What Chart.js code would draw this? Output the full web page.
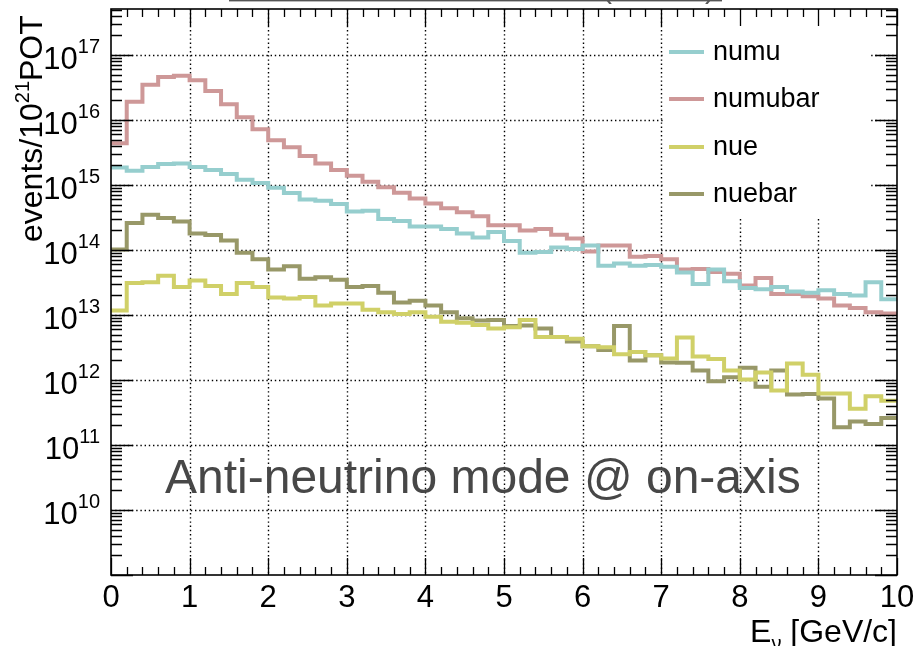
<!DOCTYPE html>
<html>
<head>
<meta charset="utf-8">
<script src="https://cdn.jsdelivr.net/npm/chart.js@4.4.1/dist/chart.umd.min.js"></script>
<style>
  html, body { margin: 0; padding: 0; background: #fff; }
  #wrap { width: 917px; height: 646px; }
</style>
</head>
<body>
<div id="wrap"><canvas id="fluxChart" width="917" height="646"></canvas></div>
<script>
// bin low edges in GeV (0.2 GeV bins), last bin closes at 10
const binLowEdges = [0.0, 0.2, 0.4, 0.6, 0.8, 1.0, 1.2, 1.4, 1.6, 1.8,
  2.0, 2.2, 2.4, 2.6, 2.8, 3.0, 3.2, 3.4, 3.6, 3.8,
  4.0, 4.2, 4.4, 4.6, 4.8, 5.0, 5.2, 5.4, 5.6, 5.8,
  6.0, 6.2, 6.4, 6.6, 6.8, 7.0, 7.2, 7.4, 7.6, 7.8,
  8.0, 8.2, 8.4, 8.6, 8.8, 9.0, 9.2, 9.4, 9.6, 9.8];
const upperEdge = 10;

// events / 1e21 POT
const numu = [1.86e15, 1.65e15, 1.9e15, 2.1e15, 2.15e15, 1.9e15, 1.7e15, 1.48e15, 1.2e15, 1.07e15,
  9.1e14, 7.5e14, 6.0e14, 5.7e14, 5.1e14, 3.9e14, 4.0e14, 3.0e14, 2.8e14, 2.3e14,
  2.3e14, 2.1e14, 1.8e14, 1.55e14, 1.9e14, 1.38e14, 9.1e13, 9.3e13, 1.09e14, 1.04e14,
  1.17e14, 5.7e13, 6.2e13, 5.7e13, 5.9e13, 5.5e13, 4.5e13, 3.0e13, 5.0e13, 3.3e13,
  2.6e13, 2.5e13, 2.7e13, 2.3e13, 2.2e13, 2.4e13, 2.1e13, 2.0e13, 3.2e13, 1.75e13];
const numubar = [4.4e15, 1.9e16, 3.5e16, 4.6e16, 4.8e16, 4.1e16, 2.8e16, 1.74e16, 1.1e16, 7.2e15,
  4.9e15, 3.8e15, 2.8e15, 2.15e15, 1.7e15, 1.39e15, 1.12e15, 9.2e14, 7.6e14, 6.2e14,
  5.2e14, 4.4e14, 3.8e14, 3.3e14, 2.4e14, 2.4e14, 2.0e14, 2.1e14, 1.72e14, 1.5e14,
  9.5e13, 1.17e14, 1.17e14, 7.9e13, 8.1e13, 7.2e13, 5.0e13, 5.1e13, 4.6e13, 4.3e13,
  2.85e13, 3.7e13, 2.1e13, 2.1e13, 1.95e13, 1.8e13, 1.4e13, 1.28e13, 1.1e13, 1.05e13];
const nue = [1.17e13, 3.1e13, 3.2e13, 4.0e13, 2.7e13, 3.4e13, 2.8e13, 2.1e13, 3.1e13, 2.7e13,
  1.86e13, 1.8e13, 1.9e13, 1.4e13, 1.5e13, 1.5e13, 1.2e13, 1.1e13, 1.04e13, 1.1e13,
  9.4e12, 7.9e12, 7.6e12, 7.0e12, 6.2e12, 6.5e12, 8.4e12, 4.6e12, 4.6e12, 4.3e12,
  3.3e12, 3.2e12, 2.5e12, 2.7e12, 2.4e12, 2.15e12, 4.5e12, 2.3e12, 2.1e12, 1.4e12,
  1.02e12, 1.3e12, 6.9e11, 1.8e12, 1.2e12, 6.2e11, 6.2e11, 3.6e11, 5.6e11, 4.8e11];
const nuebar = [1.02e14, 2.6e14, 3.5e14, 3.1e14, 2.75e14, 1.8e14, 1.7e14, 1.4e14, 9.1e13, 7.2e13,
  5.0e13, 5.6e13, 3.6e13, 3.8e13, 3.5e13, 2.7e13, 2.8e13, 2.2e13, 1.56e13, 1.65e13,
  1.4e13, 1.1e13, 8.9e12, 8.2e12, 8.4e12, 6.8e12, 6.9e12, 6.2e12, 4.6e12, 3.9e12,
  3.3e12, 2.9e12, 6.8e12, 2.0e12, 2.4e12, 1.86e12, 1.85e12, 1.4e12, 9.6e11, 1.1e12,
  1.55e12, 7.9e11, 1.4e12, 6.0e11, 6.1e11, 5.2e11, 1.87e11, 2.3e11, 2.1e11, 2.6e11];

const seriesNames = ['numu', 'numubar', 'nue', 'nuebar'];
const seriesValues = [numu, numubar, nue, nuebar];
const seriesColors = ['rgb(150,206,206)', 'rgb(206,152,152)', 'rgb(208,208,104)', 'rgb(152,152,104)'];

const xTickLabels = ['0', '1', '2', '3', '4', '5', '6', '7', '8', '9', '10'];
const yDecades = [10, 11, 12, 13, 14, 15, 16, 17];
const yMin = 1e9;
const yMax = 5.1e17;

const FONT = '"Liberation Sans", Arial, Helvetica, sans-serif';

function toSteps(values) {
  const pts = binLowEdges.map((x, i) => ({ x: x, y: values[i] }));
  pts.push({ x: upperEdge, y: values[values.length - 1] });
  return pts;
}

// ROOT-like frame, ticks, grid, legend and labels
const rootStyle = {
  id: 'rootStyle',
  beforeDraw(chart) {
    const ctx = chart.ctx;
    ctx.save();
    ctx.fillStyle = '#fff';
    ctx.fillRect(0, 0, chart.width, chart.height);
    // bottom of cut-off title box
    ctx.fillStyle = '#555';
    ctx.fillRect(229, 0, 493, 1.4);
    ctx.font = '30px ' + FONT;
    ctx.textBaseline = 'alphabetic';
    ctx.fillText('(', 602, -2);
    ctx.fillText(')', 705, -2);
    ctx.restore();
  },
  beforeDatasetsDraw(chart) {
    const ctx = chart.ctx, ca = chart.chartArea;
    const xs = chart.scales.x, ys = chart.scales.y;
    ctx.save();
    ctx.strokeStyle = '#000';
    ctx.lineWidth = 1.4;
    ctx.setLineDash([1.4, 2.8]);
    ctx.beginPath();
    for (let v = 1; v <= 9; v++) {
      const px = Math.round(xs.getPixelForValue(v)) + 0.5;
      ctx.moveTo(px, ca.top);
      ctx.lineTo(px, ca.bottom);
    }
    yDecades.forEach(e => {
      const py = Math.round(ys.getPixelForValue(Math.pow(10, e))) + 0.5;
      ctx.moveTo(ca.left, py);
      ctx.lineTo(ca.right, py);
    });
    ctx.stroke();
    ctx.restore();
  },
  afterDatasetsDraw(chart) {
    const ctx = chart.ctx, ca = chart.chartArea;
    const xs = chart.scales.x, ys = chart.scales.y;
    ctx.save();

    // legend
    ctx.fillStyle = '#fff';
    ctx.fillRect(663, ca.top + 1, 207, 208);
    const rowY = [52, 99, 147, 194];
    ctx.font = '27px ' + FONT;
    ctx.textBaseline = 'middle';
    ctx.textAlign = 'left';
    seriesNames.forEach((name, i) => {
      ctx.strokeStyle = seriesColors[i];
      ctx.lineWidth = 4;
      ctx.beginPath();
      ctx.moveTo(669, rowY[i]);
      ctx.lineTo(704, rowY[i]);
      ctx.stroke();
      ctx.fillStyle = '#000';
      ctx.fillText(name, 713, rowY[i] + 1);
    });

    // annotation
    ctx.fillStyle = '#474747';
    ctx.font = '48px ' + FONT;
    ctx.textBaseline = 'alphabetic';
    ctx.fillText('Anti-neutrino mode @ on-axis', 165, 493);

    // frame
    ctx.strokeStyle = '#000';
    ctx.lineWidth = 1.6;
    ctx.strokeRect(ca.left, ca.top, ca.right - ca.left, ca.bottom - ca.top);

    // x ticks (inside, top and bottom)
    ctx.lineWidth = 1.3;
    ctx.beginPath();
    binLowEdges.concat([upperEdge]).forEach((v, j) => {
      const px = Math.round(xs.getPixelForValue(v)) + 0.5;
      const len = (j % 5 === 0) ? 17 : 8;
      ctx.moveTo(px, ca.bottom);
      ctx.lineTo(px, ca.bottom - len);
      ctx.moveTo(px, ca.top);
      ctx.lineTo(px, ca.top + len);
    });
    // y ticks (log, inside, left and right)
    for (let e = 9; e <= 17; e++) {
      for (let k = 1; k <= 9; k++) {
        const v = k * Math.pow(10, e);
        if (v < yMin || v > yMax) continue;
        const py = Math.round(ys.getPixelForValue(v)) + 0.5;
        const len = (k === 1) ? 22 : 11;
        ctx.moveTo(ca.left, py);
        ctx.lineTo(ca.left + len, py);
        ctx.moveTo(ca.right, py);
        ctx.lineTo(ca.right - len, py);
      }
    }
    ctx.stroke();

    // x tick labels
    ctx.fillStyle = '#000';
    ctx.font = '31px ' + FONT;
    ctx.textAlign = 'center';
    ctx.textBaseline = 'alphabetic';
    xTickLabels.forEach((lab, i) => {
      ctx.fillText(lab, xs.getPixelForValue(i), 607);
    });

    // y tick labels 10^n
    ctx.textAlign = 'left';
    yDecades.forEach(e => {
      const py = ys.getPixelForValue(Math.pow(10, e));
      ctx.font = '20px ' + FONT;
      const sw = ctx.measureText(String(e)).width;
      ctx.font = '31px ' + FONT;
      const bw = ctx.measureText('10').width;
      const x0 = 100 - sw - bw;
      ctx.fillText('10', x0, py + 14);
      ctx.font = '20px ' + FONT;
      ctx.fillText(String(e), x0 + bw, py - 2);
    });

    // x axis title  E_nu [GeV/c]
    ctx.font = '32px ' + FONT;
    const wE = ctx.measureText('E').width;
    const wRest = ctx.measureText(' [GeV/c]').width;
    ctx.font = '20px ' + FONT;
    const wNu = ctx.measureText('\u03bd').width;
    const xStart = 897 - wRest - wNu - wE;
    ctx.font = '32px ' + FONT;
    ctx.fillText('E', xStart, 642);
    ctx.fillText(' [GeV/c]', xStart + wE + wNu, 642);
    ctx.font = '20px ' + FONT;
    ctx.fillText('\u03bd', xStart + wE, 650);

    // y axis title events/10^21POT (rotated)
    ctx.translate(42, 242);
    ctx.rotate(-Math.PI / 2);
    ctx.font = '32px ' + FONT;
    ctx.fillText('events/10', 0, 0);
    let off = ctx.measureText('events/10').width;
    ctx.font = '20px ' + FONT;
    ctx.fillText('21', off, -13);
    off += ctx.measureText('21').width;
    ctx.font = '32px ' + FONT;
    ctx.fillText('POT', off, 0);

    ctx.restore();
  }
};

const ctx = document.getElementById('fluxChart').getContext('2d');
const fluxChart = new Chart(ctx, {
  type: 'line',
  data: {
    datasets: seriesNames.map((name, i) => ({
      label: name,
      data: toSteps(seriesValues[i]),
      borderColor: seriesColors[i],
      backgroundColor: seriesColors[i],
      borderWidth: 4,
      stepped: true,
      fill: false,
      pointRadius: 0,
      borderJoinStyle: 'miter',
      borderCapStyle: 'butt'
    }))
  },
  options: {
    responsive: false,
    animation: false,
    devicePixelRatio: 1,
    layout: { padding: { left: 111, right: 20, top: 9, bottom: 71 } },
    scales: {
      x: { type: 'linear', min: 0, max: upperEdge, display: false },
      y: { type: 'logarithmic', min: yMin, max: yMax, display: false }
    },
    plugins: {
      legend: { display: false },
      tooltip: { enabled: false }
    }
  },
  plugins: [rootStyle]
});
</script>
</body>
</html>
